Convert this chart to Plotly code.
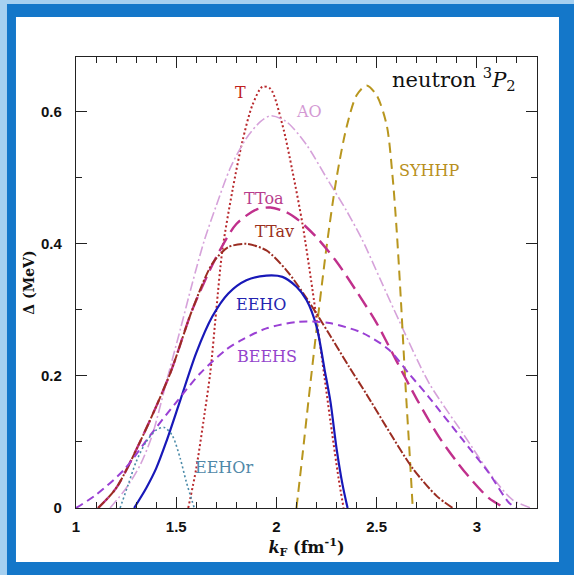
import plotly.graph_objects as go

# ---- data ----
T_x = [1.56, 1.60, 1.64, 1.67, 1.70, 1.73, 1.78, 1.83, 1.88, 1.93, 1.97, 2.03, 2.08, 2.13, 2.18, 2.23, 2.27, 2.31, 2.335]
T_y = [0.0, 0.06, 0.14, 0.205, 0.30, 0.39, 0.48, 0.555, 0.61, 0.638, 0.635, 0.58, 0.51, 0.43, 0.33, 0.22, 0.13, 0.045, 0.0]

AO_x = [1.17, 1.25, 1.32, 1.38, 1.45, 1.52, 1.58, 1.64, 1.70, 1.77, 1.85, 1.92, 1.97, 2.05, 2.15, 2.25, 2.35, 2.43, 2.52, 2.61, 2.76, 2.93, 3.09, 3.18, 3.27]
AO_y = [0.0, 0.03, 0.065, 0.11, 0.19, 0.27, 0.34, 0.405, 0.458, 0.515, 0.56, 0.585, 0.594, 0.585, 0.55, 0.50, 0.45, 0.405, 0.345, 0.285, 0.19, 0.113, 0.042, 0.012, 0.0]

SYHHP_x = [2.10, 2.13, 2.16, 2.20, 2.25, 2.30, 2.35, 2.40, 2.45, 2.50, 2.55, 2.58, 2.60, 2.62, 2.645, 2.665, 2.68]
SYHHP_y = [0.0, 0.08, 0.163, 0.27, 0.395, 0.50, 0.577, 0.625, 0.64, 0.625, 0.58, 0.50, 0.42, 0.32, 0.18, 0.08, 0.0]

TToa_x = [1.11, 1.20, 1.33, 1.47, 1.58, 1.70, 1.80, 1.90, 1.97, 2.05, 2.11, 2.20, 2.30, 2.40, 2.50, 2.60, 2.70, 2.81, 2.90, 2.975, 3.06, 3.14]
TToa_y = [0.0, 0.03, 0.107, 0.204, 0.30, 0.38, 0.43, 0.452, 0.455, 0.448, 0.436, 0.41, 0.373, 0.328, 0.28, 0.222, 0.165, 0.108, 0.07, 0.042, 0.015, 0.0]

TTav_x = [1.11, 1.20, 1.33, 1.47, 1.58, 1.68, 1.76, 1.85, 1.95, 2.05, 2.15, 2.26, 2.36, 2.45, 2.55, 2.68, 2.80, 2.88]
TTav_y = [0.0, 0.03, 0.107, 0.204, 0.30, 0.37, 0.395, 0.40, 0.39, 0.36, 0.318, 0.265, 0.215, 0.172, 0.122, 0.06, 0.018, 0.0]

EEHO_x = [1.29, 1.35, 1.40, 1.45, 1.52, 1.60, 1.68, 1.76, 1.85, 1.95, 2.03, 2.10, 2.15, 2.20, 2.24, 2.27, 2.30, 2.33, 2.355]
EEHO_y = [0.0, 0.03, 0.06, 0.10, 0.163, 0.235, 0.29, 0.325, 0.345, 0.352, 0.35, 0.335, 0.315, 0.275, 0.21, 0.16, 0.09, 0.035, 0.0]

BEEHS_x = [1.00, 1.10, 1.24, 1.37, 1.50, 1.62, 1.75, 1.83, 1.95, 2.11, 2.264, 2.43, 2.56, 2.66, 2.76, 2.93, 3.06, 3.16, 3.20]
BEEHS_y = [0.0, 0.02, 0.058, 0.11, 0.16, 0.204, 0.24, 0.255, 0.272, 0.282, 0.28, 0.265, 0.24, 0.204, 0.168, 0.103, 0.053, 0.008, 0.0]

EEHOr_x = [1.22, 1.26, 1.30, 1.35, 1.40, 1.44, 1.48, 1.52, 1.55, 1.59]
EEHOr_y = [0.0, 0.035, 0.07, 0.10, 0.118, 0.122, 0.11, 0.075, 0.04, 0.0]

x_ticks = [1, 1.5, 2, 2.5, 3]
x_ticklabels = ["1", "1.5", "2", "2.5", "3"]
y_ticks = [0, 0.2, 0.4, 0.6]
y_ticklabels = ["0", "0.2", "0.4", "0.6"]

series = [
    ("T", T_x, T_y, "#b8282c", "2px,2.5px", 2.0),
    ("AO", AO_x, AO_y, "#d6a2da", "10px,3px,2px,3px", 1.6),
    ("SYHHP", SYHHP_x, SYHHP_y, "#b8961e", "10px,6px", 2.0),
    ("TToa", TToa_x, TToa_y, "#c0308c", "15px,7px", 2.4),
    ("TTav", TTav_x, TTav_y, "#9b2d22", "9px,2px,2px,2px", 2.0),
    ("EEHO", EEHO_x, EEHO_y, "#1818b8", "solid", 2.2),
    ("BEEHS", BEEHS_x, BEEHS_y, "#9a40d4", "8px,5px", 2.0),
    ("EEHOr", EEHOr_x, EEHOr_y, "#4a8aa8", "2px,2.5px", 1.6),
]

# label positions (text annotations)
labels = [
    ("T", 1.821, 0.630, "#c02020"),
    ("AO", 2.164, 0.600, "#d49ad4"),
    ("SYHHP", 2.761, 0.511, "#b89020"),
    ("TToa", 1.940, 0.468, "#b83c8c"),
    ("TTav", 1.990, 0.418, "#9b3020"),
    ("EEHO", 1.925, 0.308, "#2424b0"),
    ("BEEHS", 1.955, 0.229, "#9444cc"),
    ("EEHOr", 1.736, 0.062, "#5088a8"),
]

fig = go.Figure()
for name, xs, ys, col, dash, w in series:
    fig.add_trace(go.Scatter(x=xs, y=ys, mode="lines", name=name,
                             line=dict(color=col, dash=dash, width=w, shape="spline", smoothing=0.8),
                             showlegend=False, hoverinfo="skip"))

for txt, lx, ly, col in labels:
    fig.add_annotation(x=lx, y=ly, xref="x", yref="y", text=txt, showarrow=False,
                       font=dict(family="DejaVu Serif", size=16, color=col))

fig.add_annotation(x=2.885, y=0.650, xref="x", yref="y",
                   text="neutron <sup>3</sup><i>P</i><sub>2</sub>", showarrow=False,
                   font=dict(family="DejaVu Serif", size=21, color="#111111"))

# frame / panel
fig.add_shape(type="rect", xref="paper", yref="paper", x0=-0.1302, x1=1.0477, y0=-0.1197, y1=1.0887,
              fillcolor="white", line=dict(width=0), layer="below")
fig.add_shape(type="rect", xref="paper", yref="paper", x0=-0.20, x1=-0.1497, y0=-0.2, y1=1.2,
              fillcolor="#a6d0f0", line=dict(width=0), layer="below")
fig.add_shape(type="rect", xref="paper", yref="paper", x0=-0.2, x1=1.2, y0=1.1175, y1=1.2,
              fillcolor="#a6d0f0", line=dict(width=0), layer="below")

axis_common = dict(showgrid=False, zeroline=False, showline=True, linecolor="#222222", linewidth=1.2,
                   mirror="ticks", ticks="inside", tickcolor="#222222", tickwidth=1.2,
                   tickfont=dict(family="Liberation Sans", size=15, color="#111111", weight="bold"))

fig.update_xaxes(range=[1, 3.3], tickmode="array", tickvals=x_ticks, ticktext=x_ticklabels,
                 ticklen=11, ticklabelstandoff=5,
                 minor=dict(dtick=0.1, tick0=1, ticks="inside", ticklen=6, tickcolor="#222222", tickwidth=1.2),
                 title=dict(text="<i>k</i><sub>F</sub> (fm<sup>-1</sup>)", standoff=6,
                            font=dict(family="DejaVu Serif", size=16, color="#111111", weight="bold")),
                 **axis_common)
fig.update_yaxes(range=[0, 0.683], tickmode="array", tickvals=y_ticks, ticktext=y_ticklabels,
                 ticklen=11, ticklabelstandoff=10,
                 minor=dict(dtick=0.1, tick0=0, ticks="inside", ticklen=6, tickcolor="#222222", tickwidth=1.2),
                 title=dict(text="Δ (MeV)", standoff=3,
                            font=dict(family="DejaVu Serif", size=14, color="#111111", weight="bold")),
                 **axis_common)

fig.update_layout(width=574, height=575, margin=dict(l=76, r=37, t=57, b=67, autoexpand=False),
                  paper_bgcolor="#1477c9", plot_bgcolor="white")

fig.write_html("out.html")
